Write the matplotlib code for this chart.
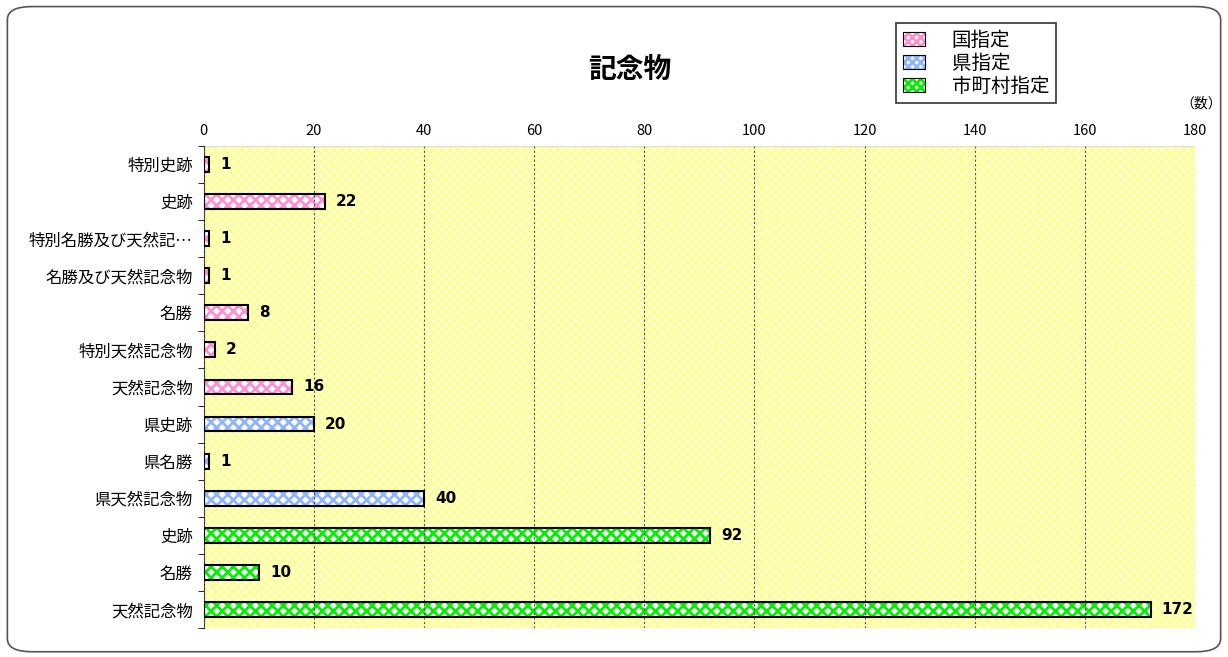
import matplotlib.pyplot as plt
from matplotlib.patches import FancyBboxPatch, Rectangle, Patch
from matplotlib.legend_handler import HandlerTuple
import numpy as np

plt.rcParams['font.family'] = ['Noto Sans CJK JP', 'DejaVu Sans']
plt.rcParams['hatch.linewidth'] = 2.0

categories = ["特別史跡", "史跡", "特別名勝及び天然記…", "名勝及び天然記念物", "名勝",
              "特別天然記念物", "天然記念物", "県史跡", "県名勝", "県天然記念物",
              "史跡", "名勝", "天然記念物"]
values = [1, 22, 1, 1, 8, 2, 16, 20, 1, 40, 92, 10, 172]
groups = ["国", "国", "国", "国", "国", "国", "国", "県", "県", "県", "市", "市", "市"]
group_names = {"国": "国指定", "県": "県指定", "市": "市町村指定"}
group_colors = {"国": "#FF8FD0", "県": "#8FB4FF", "市": "#00F000"}
xticks = [0, 20, 40, 60, 80, 100, 120, 140, 160, 180]

fig = plt.figure(figsize=(12.28, 6.57), dpi=100)
fig.patches.append(FancyBboxPatch((0.006, 0.008), 0.988, 0.982, boxstyle="round,pad=0,rounding_size=0.02",
                                  transform=fig.transFigure, facecolor="white", edgecolor="#555555",
                                  linewidth=1.2, zorder=-10))
ax = fig.add_axes([0.166, 0.044, 0.807, 0.734])
ax.set_facecolor("#FFFFEE")
ax.add_patch(Rectangle((0, 0), 1, 1, transform=ax.transAxes, facecolor="none",
                       edgecolor="#FFFF99", hatch="xxxx", linewidth=0, zorder=0))

y = np.arange(len(categories))
cols = [group_colors[g] for g in groups]
ax.barh(y, values, height=0.4, color="white", edgecolor=cols, hatch="xxx", linewidth=0, zorder=2)
ax.barh(y, values, height=0.4, color="none", edgecolor="black", linewidth=1.5, zorder=3)

for yi, v in zip(y, values):
    ax.text(v + 2, yi, str(v), va="center", ha="left", fontsize=11, fontweight="bold",
            family=["DejaVu Sans"], zorder=4)

ax.set_xlim(0, 180)
ax.set_ylim(len(categories) - 0.5, -0.5)
ax.set_xticks(xticks)
ax.xaxis.tick_top()
ax.tick_params(axis="x", length=0, labelsize=10.5, pad=6)
ax.set_yticks(y)
ax.set_yticklabels(categories, fontsize=11.8)
ax.set_yticks(np.arange(-0.5, len(categories), 1), minor=True)
ax.tick_params(axis="y", which="major", length=0, pad=8)
ax.tick_params(axis="y", which="minor", length=4, direction="out")
ax.grid(axis="x", color="#555555", linestyle=(0, (2, 2)), linewidth=0.8, zorder=1)
ax.set_axisbelow(False)
for s in ["top", "right", "bottom"]:
    ax.spines[s].set_visible(False)
ax.spines["left"].set_color("#333333")
ax.axhline(-0.5, color="#DDDDDD", linewidth=1, zorder=1)

fig.text(0.513, 0.893, "記念物", ha="center", va="center", fontsize=20, fontweight="bold")
fig.text(0.995, 0.843, "（数）", ha="right", va="center", fontsize=10)

handles = [(Patch(facecolor="white", edgecolor=group_colors[k], hatch="xxxx", linewidth=0),
            Patch(facecolor="none", edgecolor="black", linewidth=0.8)) for k in group_names]
leg = fig.legend(handles, list(group_names.values()), loc="upper left", bbox_to_anchor=(0.730, 0.965),
                 fontsize=14, frameon=True, fancybox=False, edgecolor="black", handlelength=1.1,
                 handleheight=0.75, labelspacing=0.1, borderpad=0.35, handletextpad=1.4,
                 borderaxespad=0, handler_map={tuple: HandlerTuple(ndivide=1)})
leg.get_frame().set_linewidth(1.2)

fig.savefig("out.png", dpi=100)
